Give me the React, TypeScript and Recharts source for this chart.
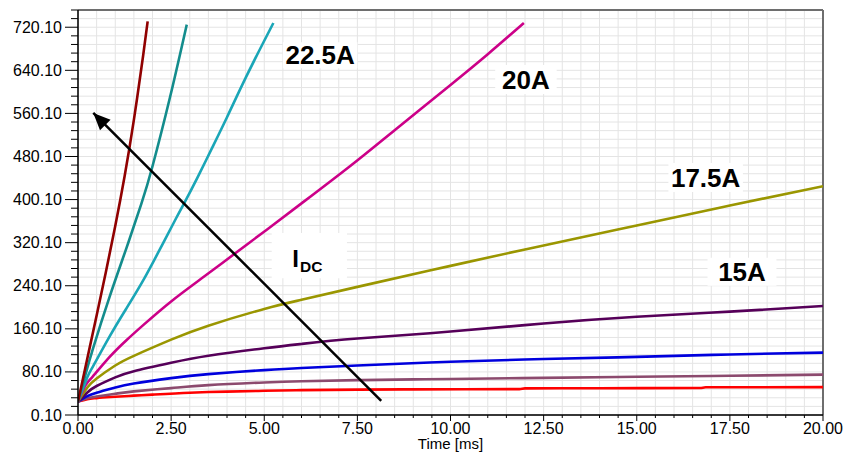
import React from 'react';
import { LineChart, Line, XAxis, YAxis, CartesianGrid, ReferenceLine, ReferenceArea } from 'recharts';

type P = { t: number; v: number };
const pts = (a: number[][]): P[] => a.map(([t, v]) => ({ t, v }));

// Time [ms] vs value, one array per DC current
const I_7_5A = pts([[0,25],[0.25,29.5],[0.5,31.5],[1,34],[1.5,36],[2,38],[3,41.5],[3.5,42.7],[4,43.5],[5,45],[6,46.2],[7.5,47.2],[9,47.7],[11.85,48.2],[12,49.6],[14,49.9],[16.7,50.2],[16.85,51.5],[20,51.8]]);
const I_10A = pts([[0,25],[0.25,31],[0.5,34.5],[1,39.5],[1.5,44],[2.5,50],[3.5,55.5],[5,60.5],[6,62.8],[7.5,64.8],[9,66.2],[10,67],[12.5,69],[15,71],[17.5,73],[20,75]]);
const I_12_5A = pts([[0,25],[0.25,35],[0.5,41.5],[1,51],[1.5,58.5],[2.5,68.5],[3.5,76],[5,83.5],[6,87.5],[7.5,92],[10,99],[12.5,104],[15,108],[17.5,112.5],[20,116]]);
const I_15A = pts([[0,25],[0.25,42],[0.5,54],[1,70],[1.5,81.5],[2.5,97],[3.5,110],[5,124],[6,132],[7.5,142],[10,155],[12.5,170],[15,182.5],[17.5,192],[20,202.5]]);
const I_17_5A = pts([[0,25],[0.25,51],[0.5,68],[1,92],[1.5,110],[2.5,140],[3.5,166],[5,197],[6,214],[7.5,238],[10,277],[12.5,315],[15,352],[17.5,389],[20,425]]);
const I_20A = pts([[0,25],[0.2,55],[0.4,72],[0.85,108],[1.3,139],[1.75,167],[2.5,211],[3.44,260],[4.6,320],[5.2,351],[6,393],[7.3,462],[8.5,529],[10,613],[11,670],[11.97,728]]);
const I_22_5A = pts([[0,25],[0.25,70],[0.4,90],[0.85,146],[1.3,198],[1.75,250],[2.2,308],[2.63,365],[2.87,396],[3.2,440],[3.6,496],[4,553],[4.5,626],[5,695],[5.245,728]]);
const I_25A = pts([[0,25],[0.2,75],[0.4,123],[0.85,220],[1.3,310],[1.7,392],[2,462],[2.47,590],[2.92,725]]);
const I_27_5A = pts([[0,25],[0.25,105],[0.5,185],[0.75,266],[1,351],[1.25,443],[1.5,548],[1.75,668],[1.87,731]]);

const ARROW = pts([[8.14,26.5],[0.41,561]]);

const X_MAJOR = [0, 2.5, 5, 7.5, 10, 12.5, 15, 17.5, 20];
const Y_MAJOR = [0.1, 80.1, 160.1, 240.1, 320.1, 400.1, 480.1, 560.1, 640.1, 720.1];
const X_DOMAIN: [number, number] = [0, 20];
const Y_DOMAIN: [number, number] = [0.1, 752.1];
const X_MINOR = Array.from({ length: 41 }, (_, i) => i * 0.5);
const Y_MINOR = Array.from({ length: 48 }, (_, i) => Math.round((0.1 + i * 16) * 10) / 10);

const SERIES: { name: string; data: P[]; color: string; curve: 'monotone' | 'natural' }[] = [
  { name: '7.5A', data: I_7_5A, color: '#ff0000', curve: 'monotone' },
  { name: '10A', data: I_10A, color: '#8c4a6e', curve: 'natural' },
  { name: '12.5A', data: I_12_5A, color: '#0000dd', curve: 'natural' },
  { name: '15A', data: I_15A, color: '#560059', curve: 'natural' },
  { name: '17.5A', data: I_17_5A, color: '#9a9600', curve: 'natural' },
  { name: '20A', data: I_20A, color: '#cc0088', curve: 'natural' },
  { name: '22.5A', data: I_22_5A, color: '#1aa6b7', curve: 'natural' },
  { name: '25A', data: I_25A, color: '#138c8c', curve: 'natural' },
  { name: '27.5A', data: I_27_5A, color: '#900000', curve: 'natural' },
];

const LABELS = [
  { text: '22.5A', x1: 5.5, x2: 7.5, y1: 644, y2: 692 },
  { text: '20A', x1: 11.2, x2: 12.85, y1: 596, y2: 650 },
  { text: '17.5A', x1: 15.85, x2: 17.85, y1: 414, y2: 468 },
  { text: '15A', x1: 16.9, x2: 18.75, y1: 240, y2: 292 },
];

const FONT = '"Liberation Sans", Arial, sans-serif';
const near = (arr: number[], v: number) => arr.some((m) => Math.abs(m - v) < 1e-6);

const XTick = (props: any) => {
  const { x, y, payload } = props;
  const v = Number(payload.value);
  const major = near(X_MAJOR, v);
  return (
    <g>
      <line x1={x} x2={x} y1={y} y2={y + (major ? 6 : 3)} stroke="#000" strokeWidth={1} />
      {major && (
        <text x={x} y={y + 19} textAnchor="middle" fontSize={16} fill="#000" fontFamily={FONT}>
          {v.toFixed(2)}
        </text>
      )}
    </g>
  );
};

const YTick = (props: any) => {
  const { x, y, payload } = props;
  const v = Number(payload.value);
  const major = near(Y_MAJOR, v);
  return (
    <g>
      <line x1={x - (major ? 13 : 7)} x2={x} y1={y} y2={y} stroke="#000" strokeWidth={1} />
      {major && (
        <text x={x - 16} y={y + 5.5} textAnchor="end" fontSize={16} fill="#000" fontFamily={FONT}>
          {v.toFixed(2)}
        </text>
      )}
    </g>
  );
};

const ArrowHead = (props: any) => {
  const { cx, cy, index, points } = props;
  if (index !== 1 || cx == null) return <g key={`ad${index}`} />;
  let ang = -135;
  if (points && points.length > 1) {
    ang = (Math.atan2(points[1].y - points[0].y, points[1].x - points[0].x) * 180) / Math.PI;
  }
  return (
    <polygon
      key="arrowhead"
      points={`${cx},${cy} ${cx - 17},${cy - 7.5} ${cx - 17},${cy + 7.5}`}
      transform={`rotate(${ang} ${cx} ${cy})`}
      fill="#000"
    />
  );
};

const BoldLabel = (text: string) => (props: any) => {
  const vb = props.viewBox || {};
  const cx = vb.x + vb.width / 2;
  const cy = vb.y + vb.height / 2;
  return (
    <text x={cx} y={cy + 9} textAnchor="middle" fontSize={26} fontWeight="bold" fill="#000" fontFamily={FONT}>
      {text}
    </text>
  );
};

const IdcLabel = (props: any) => {
  const vb = props.viewBox || {};
  const cx = vb.x + vb.width / 2;
  const cy = vb.y + vb.height / 2;
  return (
    <text x={cx - 2} y={cy + 11} textAnchor="middle" fontWeight="bold" fill="#000" fontFamily={FONT}>
      <tspan fontSize={24}>I</tspan>
      <tspan fontSize={15.5} dy={5} dx={1}>DC</tspan>
    </text>
  );
};

export default function App() {
  return (
    <div style={{ position: 'absolute', left: 0, top: 0, width: 844, height: 452, overflow: 'hidden', background: '#fff', fontFamily: FONT }}>
      <div style={{ position: 'absolute', left: 258, top: -18, fontSize: 15, lineHeight: '15px', whiteSpace: 'nowrap', color: '#000' }}>
        Thermal Rise by Direct Current Heating
      </div>
      <LineChart width={844} height={452} margin={{ top: 10, right: 21, bottom: 0, left: 0 }}>
        <CartesianGrid stroke="#e4e4e4" strokeWidth={1} />
        <CartesianGrid xAxisId="major" yAxisId="major" stroke="#c6c6c6" strokeWidth={1} />
        <XAxis
          dataKey="t"
          type="number"
          domain={X_DOMAIN}
          allowDataOverflow
          ticks={X_MINOR}
          interval={0}
          tickSize={0}
          tickMargin={0}
          tickLine={false}
          tick={XTick}
          axisLine={{ stroke: '#000', strokeWidth: 1.5 }}
          height={37}
          label={{ value: 'Time [ms]', position: 'insideBottom', offset: 3, fontSize: 15, fill: '#000', fontFamily: FONT }}
        />
        <YAxis
          type="number"
          domain={Y_DOMAIN}
          allowDataOverflow
          ticks={Y_MINOR}
          interval={0}
          tickSize={0}
          tickMargin={0}
          tickLine={false}
          tick={YTick}
          axisLine={{ stroke: '#000', strokeWidth: 1.5 }}
          width={78}
        />
        <XAxis xAxisId="major" type="number" domain={X_DOMAIN} allowDataOverflow ticks={X_MAJOR} interval={0} height={0} tick={false} tickLine={false} axisLine={false} />
        <YAxis yAxisId="major" type="number" domain={Y_DOMAIN} allowDataOverflow ticks={Y_MAJOR} interval={0} width={0} tick={false} tickLine={false} axisLine={false} />
        <ReferenceLine y={752.1} stroke="#6e6e6e" strokeWidth={2} ifOverflow="visible" />
        <ReferenceLine x={20} stroke="#6e6e6e" strokeWidth={2} ifOverflow="visible" />
        {LABELS.map((l) => (
          <ReferenceArea key={l.text} x1={l.x1} x2={l.x2} y1={l.y1} y2={l.y2} fill="#fff" fillOpacity={1} stroke="none" label={BoldLabel(l.text)} />
        ))}
        <ReferenceArea x1={5.2} x2={7.22} y1={254} y2={338} fill="#fff" fillOpacity={1} stroke="none" label={IdcLabel} />
        {SERIES.map((s) => (
          <Line
            key={s.name}
            data={s.data}
            dataKey="v"
            name={s.name}
            type={s.curve}
            stroke={s.color}
            strokeWidth={2.6}
            dot={false}
            activeDot={false}
            isAnimationActive={false}
          />
        ))}
        <Line
          data={ARROW}
          dataKey="v"
          type="linear"
          stroke="#000"
          strokeWidth={2.5}
          dot={ArrowHead}
          activeDot={false}
          isAnimationActive={false}
        />
      </LineChart>
    </div>
  );
}
